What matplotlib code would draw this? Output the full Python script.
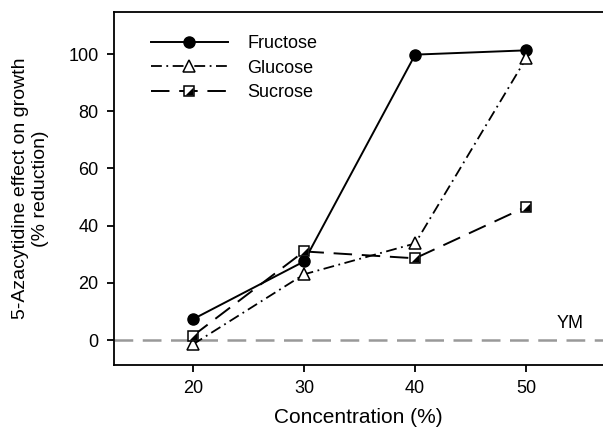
import matplotlib
matplotlib.use("Agg")
import matplotlib.pyplot as plt
from matplotlib.lines import Line2D
from matplotlib.legend_handler import HandlerTuple

plt.rcParams['font.family'] = ['Liberation Sans', 'DejaVu Sans']

conc = [20, 30, 40, 50]
fructose = [7.3, 27.5, 99.8, 101.3]
glucose = [-1.5, 23.0, 33.8, 98.6]
sucrose = [1.5, 31.0, 28.6, 46.6]
xticks = [20, 30, 40, 50]
yticks = [0, 20, 40, 60, 80, 100]

fig = plt.figure(figsize=(6.03, 4.28), dpi=100)
ax = fig.add_axes([114/603, 1 - 365/428, 1 - 114/603, (365 - 12)/428])

ax.axhline(0, color='#999999', lw=1.8, dashes=(7.5, 3.8), zorder=1)

ax.plot(conc, fructose, '-', color='black', lw=1.4, marker='o', ms=8,
        mfc='black', mec='black', zorder=3)
ax.plot(conc, glucose, '-.', color='black', lw=1.3, marker='^', ms=8,
        mfc='white', mec='black', mew=1.1, dashes=(6, 2.5, 1, 2.5), zorder=4)
ax.plot(conc, sucrose, '--', color='black', lw=1.4, dashes=(9.5, 5),
        marker='s', ms=6.5, mfc='white', mec='black', mew=1.1, zorder=4)
tri = [(1, -1), (1, 1), (-1, -1), (1, -1)]
ax.plot(conc, sucrose, ls='none', marker=tri, ms=5.8, mfc='black', mec='black',
        mew=0, zorder=5)

h1 = Line2D([], [], color='black', lw=1.4, marker='o', ms=8, mfc='black')
h2 = Line2D([], [], color='black', lw=1.3, marker='^', ms=8, mfc='white',
            mew=1.1, ls='-.', dashes=(6, 2.5, 1, 2.5))
h3a = Line2D([], [], color='black', lw=1.4, marker='s', ms=6.5, mfc='white',
             mew=1.1, ls='--', dashes=(9.5, 5))
h3b = Line2D([], [], ls='none', marker=tri, ms=5.8, mfc='black', mec='black', mew=0)
leg = ax.legend([h1, h2, (h3a, h3b)], ['Fructose', 'Glucose', 'Sucrose'],
                handler_map={tuple: HandlerTuple(ndivide=1)},
                loc='upper left', bbox_to_anchor=(0.075, 0.935), frameon=False,
                fontsize=13, handlelength=4.3, handletextpad=1.05,
                labelspacing=0.42, borderaxespad=0, borderpad=0)

ax.text(52.7, 3.0, 'YM', fontsize=13, ha='left', va='bottom')

ax.set_xlim(12.9, 56.9)
ax.set_ylim(-8.7, 114.7)
ax.set_xticks(xticks)
ax.set_yticks(yticks)
ax.tick_params(direction='out', length=5, width=1.3, labelsize=13, pad=6)
for s in ['left', 'bottom', 'top']:
    ax.spines[s].set_linewidth(1.3)
ax.spines['right'].set_visible(False)
ax.set_xlabel('Concentration (%)', fontsize=15, labelpad=8)
ax.set_ylabel('5-Azacytidine effect on growth\n(% reduction)', fontsize=14,
              labelpad=14)

fig.savefig('out.png', dpi=100)
